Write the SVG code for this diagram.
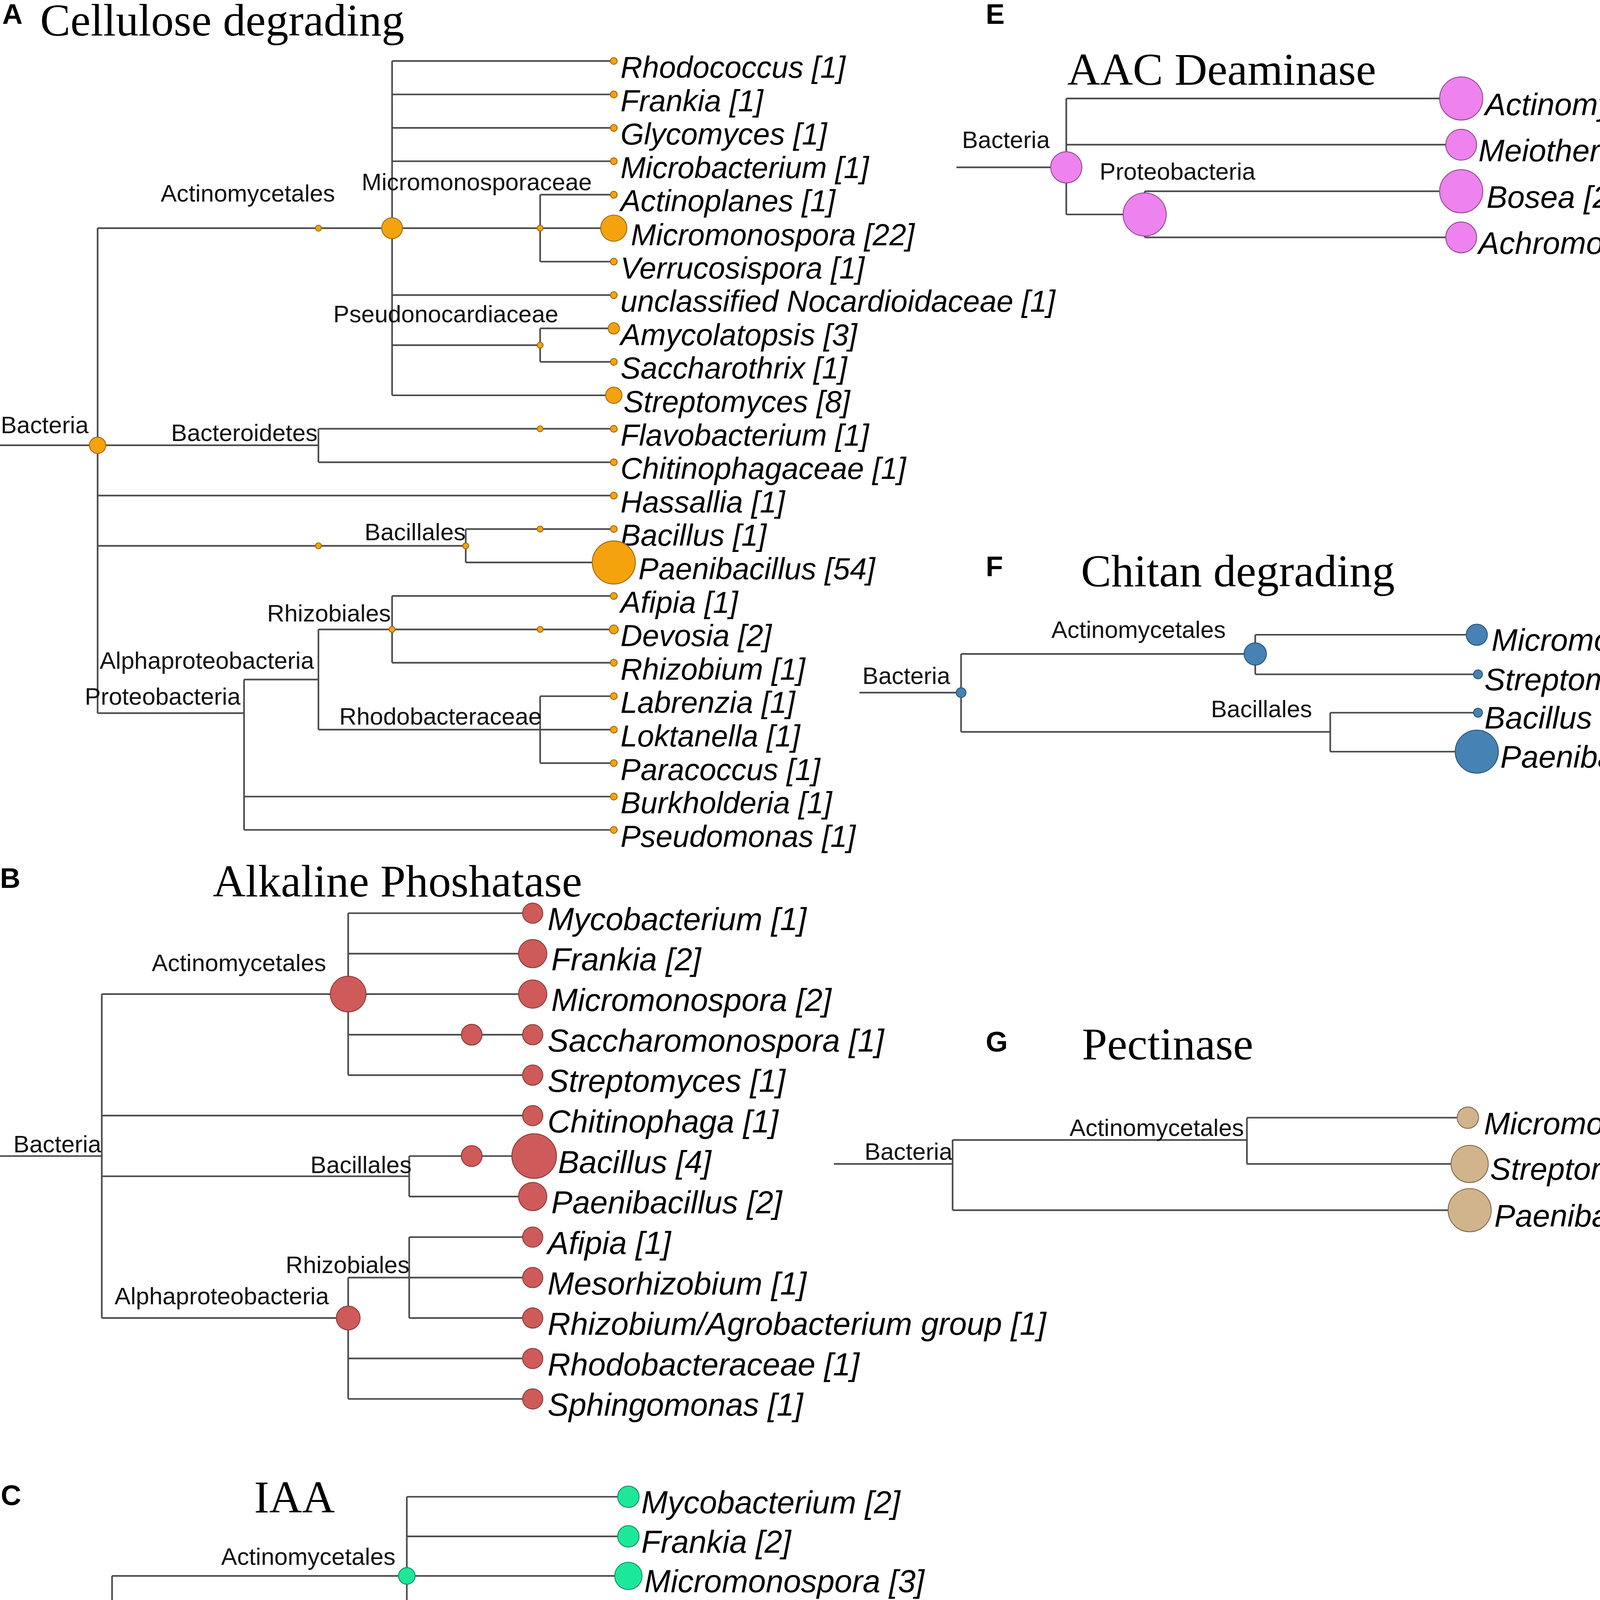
<svg xmlns="http://www.w3.org/2000/svg" width="4571" height="5951" viewBox="0 0 4571 5951">
<style>
.ln{fill:none;stroke:#4a4a4a;stroke-width:1.1}
.lf{font-family:"Liberation Sans",Arial,sans-serif;font-style:italic;fill:#000}
.fa{font-size:20.3px}.fb{font-size:21.3px}.fe{font-size:21px}
.in{font-family:"Liberation Sans",Arial,sans-serif;font-size:16.1px;fill:#111}
.tt{font-family:"Liberation Serif","Times New Roman",serif;font-size:30.5px;fill:#000}
.pl{font-family:"Liberation Sans",Arial,sans-serif;font-weight:bold;font-size:19px;fill:#000}
.cA{fill:#F5A20F;stroke:#9E6A0C;stroke-width:0.6}
.cB{fill:#CF5A5A;stroke:#8A3A3A;stroke-width:0.6}
.cC{fill:#1DE89A;stroke:#129062;stroke-width:0.6}
.cD{fill:#9932CC;stroke:#5C1E7C;stroke-width:0.6}
.cE{fill:#EE82EE;stroke:#8E4A8E;stroke-width:0.6}
.cF{fill:#4682B4;stroke:#2B5478;stroke-width:0.6}
.cG{fill:#D2B48C;stroke:#7E6A50;stroke-width:0.6}
.cH{fill:#CD5C5C;stroke:#8A3A3A;stroke-width:0.6}
</style>
<rect width="4571" height="5951" fill="#fff"/>
<g transform="scale(3.8092 3.8074)">
<g id="connectors">
<!-- A -->
<path class="ln" d="M0,299.4H65.6M65.6,153.4V479.5M65.6,153.4H263.5M263.5,41V265.8M263.5,41H412.5M263.5,63.5H412.5M263.5,86H412.5M263.5,108.4H412.5M263.5,198.4H412.5M263.5,265.8H412.5M263.5,153.4H363M363,130.9V175.9M363,130.9H412.5M363,153.4H412.5M363,175.9H412.5M263.5,232.1H363M363,220.8V243.3M363,220.8H412.5M363,243.3H412.5M65.6,299.4H214M214,288.3V310.8M214,288.3H412.5M214,310.8H412.5M65.6,333.2H412.5M65.6,367H313M313,355.7V378.2M313,355.7H412.5M313,378.2H412.5M65.6,479.5H164M164,456.9V558M164,456.9H214M214,423.2V490.6M214,423.2H263.5M263.5,400.7V445.6M263.5,400.7H412.5M263.5,423.2H412.5M263.5,445.6H412.5M214,490.6H363M363,468.1V513.1M363,468.1H412.5M363,490.6H412.5M363,513.1H412.5M164,535.6H412.5M164,558H412.5"/>
<!-- B -->
<path class="ln" d="M0,777.3H68.4M68.4,668.4V886.2M68.4,668.4H234M234,614V722.9M234,614H358M234,641.2H358M234,668.4H358M234,695.7H358M234,722.9H358M68.4,750.1H358M68.4,790.9H275M275,777.3V804.5M275,777.3H358M275,804.5H358M68.4,886.2H234M234,859V940.6M234,859H275M275,831.8V886.2M275,831.8H358M275,859H358M275,886.2H358M234,913.4H358M234,940.6H358"/>
<!-- C -->
<path class="ln" d="M0,1166.1H75.3M75.3,1059.6V1285.9M75.3,1059.6H273.4M273.4,1006.4V1112.9M273.4,1006.4H422.3M273.4,1033H422.3M273.4,1059.6H422.3M273.4,1086.3H422.3M273.4,1112.9H422.3M75.3,1139.5H422.3M75.3,1166.1H422.3M75.3,1206.05H323.6M323.6,1192.7V1219.4M323.6,1192.7H422.3M323.6,1219.4H422.3M75.3,1285.9H273.4M273.4,1259.3V1325.8M273.4,1259.3H373M373,1246V1272.6M373,1246H422.3M373,1272.6H422.3M273.4,1299.2H422.3M273.4,1325.8H422.3"/>
<!-- D -->
<path class="ln" d="M0,1477.2H76.4M76.4,1429.1V1509.5M76.4,1429.1H314M314,1412V1445M314,1412H493.4M314,1445H493.4M76.4,1509.5H314M314,1493.3V1541.8M314,1493.3H374M374,1477V1509.6M374,1477H493.4M374,1509.6H493.4M314,1541.8H493.4"/>
<!-- E -->
<path class="ln" d="M642.8,112.5H716.6M716.6,66.2V144.2M716.6,66.2H982M716.6,97.3H982M716.6,144.2H769.3M769.3,128.6V159.6M769.3,128.6H982M769.3,159.6H982"/>
<!-- F -->
<path class="ln" d="M577.6,465.7H645.9M645.9,439.7V492.1M645.9,439.7H843.6M843.6,426.8V453.4M843.6,426.8H992.5M843.6,453.4H993.3M645.9,492.1H894M894,479.2V505.4M894,479.2H993.3M894,505.4H992.5"/>
<!-- G -->
<path class="ln" d="M560.4,782.6H640.2M640.2,766.5V813.7M640.2,766.5H838M838,751.5V782.6M838,751.5H986.5M838,782.6H987.7M640.2,813.7H987.7"/>
<!-- H -->
<path class="ln" d="M646.5,1224.3H723.9M723.9,1204.5V1242.9M723.9,1204.5H1013.6M723.9,1242.9H1013.6"/>
</g>

<g id="panelA">
<text class="pl" x="1.5" y="16">A</text>
<text class="tt" x="27" y="24">Cellulose degrading</text>
<g id="A-bacteria"><circle class="cA" cx="65.6" cy="299.4" r="5.5"/><text class="in" x="0.5" y="291.2">Bacteria</text></g>
<g id="A-actinomycetales"><circle class="cA" cx="214" cy="153.4" r="2"/><circle class="cA" cx="263.5" cy="153.4" r="7"/><text class="in" x="108" y="135.6">Actinomycetales</text></g>
<g id="A-micromonosporaceae"><circle class="cA" cx="363" cy="153.4" r="2"/><text class="in" x="243" y="127.8">Micromonosporaceae</text></g>
<g id="A-pseudonocardiaceae"><circle class="cA" cx="363" cy="232.1" r="2"/><text class="in" x="224" y="216.8">Pseudonocardiaceae</text></g>
<g id="A-bacteroidetes"><circle class="cA" cx="363" cy="288.3" r="2"/><text class="in" x="115" y="296.6">Bacteroidetes</text></g>
<g id="A-bacillales"><circle class="cA" cx="214" cy="367" r="2"/><circle class="cA" cx="313" cy="367" r="2"/><circle class="cA" cx="363" cy="355.7" r="2"/><text class="in" x="245" y="363.2">Bacillales</text></g>
<g id="A-rhizobiales"><circle class="cA" cx="263.5" cy="423.2" r="2"/><circle class="cA" cx="363" cy="423.2" r="2"/><text class="in" x="179.5" y="417.8">Rhizobiales</text></g>
<g id="A-alphaproteobacteria"><text class="in" x="67" y="449.6">Alphaproteobacteria</text></g>
<g id="A-proteobacteria"><text class="in" x="57" y="473.7">Proteobacteria</text></g>
<g id="A-rhodobacteraceae"><text class="in" x="228" y="487.2">Rhodobacteraceae</text></g>
<g id="A-rhodococcus"><circle class="cA" cx="412.5" cy="41" r="2.3"/><text class="lf fa" x="417" y="52.3">Rhodococcus [1]</text></g>
<g id="A-frankia"><circle class="cA" cx="412.5" cy="63.5" r="2.3"/><text class="lf fa" x="417" y="74.8">Frankia [1]</text></g>
<g id="A-glycomyces"><circle class="cA" cx="412.5" cy="86" r="2.3"/><text class="lf fa" x="417" y="97.3">Glycomyces [1]</text></g>
<g id="A-microbacterium"><circle class="cA" cx="412.5" cy="108.4" r="2.3"/><text class="lf fa" x="417" y="119.7">Microbacterium [1]</text></g>
<g id="A-actinoplanes"><circle class="cA" cx="412.5" cy="130.9" r="2.3"/><text class="lf fa" x="417" y="142.2">Actinoplanes [1]</text></g>
<g id="A-micromonospora"><circle class="cA" cx="412.5" cy="153.4" r="8.8"/><text class="lf fa" x="424" y="164.9">Micromonospora [22]</text></g>
<g id="A-verrucosispora"><circle class="cA" cx="412.5" cy="175.9" r="2.3"/><text class="lf fa" x="417" y="187.2">Verrucosispora [1]</text></g>
<g id="A-nocardioidaceae"><circle class="cA" cx="412.5" cy="198.4" r="2.3"/><text class="lf fa" x="417" y="209.7">unclassified Nocardioidaceae [1]</text></g>
<g id="A-amycolatopsis"><circle class="cA" cx="412.5" cy="220.8" r="3.8"/><text class="lf fa" x="417" y="232.1">Amycolatopsis [3]</text></g>
<g id="A-saccharothrix"><circle class="cA" cx="412.5" cy="243.3" r="2.3"/><text class="lf fa" x="417" y="254.6">Saccharothrix [1]</text></g>
<g id="A-streptomyces"><circle class="cA" cx="412.5" cy="265.8" r="5.5"/><text class="lf fa" x="419" y="277.1">Streptomyces [8]</text></g>
<g id="A-flavobacterium"><circle class="cA" cx="412.5" cy="288.3" r="2.3"/><text class="lf fa" x="417" y="299.6">Flavobacterium [1]</text></g>
<g id="A-chitinophagaceae"><circle class="cA" cx="412.5" cy="310.8" r="2.3"/><text class="lf fa" x="417" y="322.1">Chitinophagaceae [1]</text></g>
<g id="A-hassallia"><circle class="cA" cx="412.5" cy="333.2" r="2.3"/><text class="lf fa" x="417" y="344.5">Hassallia [1]</text></g>
<g id="A-bacillus"><circle class="cA" cx="412.5" cy="355.7" r="2.3"/><text class="lf fa" x="417" y="367">Bacillus [1]</text></g>
<g id="A-paenibacillus"><circle class="cA" cx="412.5" cy="378.2" r="14.5"/><text class="lf fa" x="429" y="389.6">Paenibacillus [54]</text></g>
<g id="A-afipia"><circle class="cA" cx="412.5" cy="400.7" r="2.3"/><text class="lf fa" x="417" y="412">Afipia [1]</text></g>
<g id="A-devosia"><circle class="cA" cx="412.5" cy="423.2" r="3"/><text class="lf fa" x="417" y="434.5">Devosia [2]</text></g>
<g id="A-rhizobium"><circle class="cA" cx="412.5" cy="445.6" r="2.3"/><text class="lf fa" x="417" y="456.9">Rhizobium [1]</text></g>
<g id="A-labrenzia"><circle class="cA" cx="412.5" cy="468.1" r="2.3"/><text class="lf fa" x="417" y="479.4">Labrenzia [1]</text></g>
<g id="A-loktanella"><circle class="cA" cx="412.5" cy="490.6" r="2.3"/><text class="lf fa" x="417" y="501.9">Loktanella [1]</text></g>
<g id="A-paracoccus"><circle class="cA" cx="412.5" cy="513.1" r="2.3"/><text class="lf fa" x="417" y="524.4">Paracoccus [1]</text></g>
<g id="A-burkholderia"><circle class="cA" cx="412.5" cy="535.6" r="2.3"/><text class="lf fa" x="417" y="546.9">Burkholderia [1]</text></g>
<g id="A-pseudomonas"><circle class="cA" cx="412.5" cy="558" r="2.3"/><text class="lf fa" x="417" y="569.3">Pseudomonas [1]</text></g>
</g>

<g id="panelB">
<text class="pl" x="0" y="597">B</text>
<text class="tt" x="143" y="602.7">Alkaline Phoshatase</text>
<g id="B-bacteria"><text class="in" x="9" y="774.7">Bacteria</text></g>
<g id="B-actinomycetales"><circle class="cB" cx="234" cy="668.4" r="12"/><text class="in" x="102" y="653">Actinomycetales</text></g>
<g id="B-bacillales"><circle class="cB" cx="317" cy="777.3" r="7"/><text class="in" x="208.6" y="788.6">Bacillales</text></g>
<g id="B-rhizobiales"><text class="in" x="192" y="855.9">Rhizobiales</text></g>
<g id="B-alphaproteobacteria"><circle class="cB" cx="234" cy="886.2" r="8"/><text class="in" x="77" y="877">Alphaproteobacteria</text></g>
<g id="B-mycobacterium"><circle class="cB" cx="358" cy="614" r="6.8"/><text class="lf fb" x="368" y="625.3">Mycobacterium [1]</text></g>
<g id="B-frankia"><circle class="cB" cx="358" cy="641.2" r="9.5"/><text class="lf fb" x="370.5" y="652.5">Frankia [2]</text></g>
<g id="B-micromonospora"><circle class="cB" cx="358" cy="668.4" r="9.5"/><text class="lf fb" x="370.5" y="679.7">Micromonospora [2]</text></g>
<g id="B-saccharomonospora"><circle class="cB" cx="317" cy="695.7" r="7"/><circle class="cB" cx="358" cy="695.7" r="6.8"/><text class="lf fb" x="368" y="707">Saccharomonospora [1]</text></g>
<g id="B-streptomyces"><circle class="cB" cx="358" cy="722.9" r="6.8"/><text class="lf fb" x="368" y="734.2">Streptomyces [1]</text></g>
<g id="B-chitinophaga"><circle class="cB" cx="358" cy="750.1" r="6.8"/><text class="lf fb" x="368" y="761.4">Chitinophaga [1]</text></g>
<g id="B-bacillus"><circle class="cB" cx="359" cy="777.3" r="15"/><text class="lf fb" x="375" y="788.6">Bacillus [4]</text></g>
<g id="B-paenibacillus"><circle class="cB" cx="358" cy="804.5" r="9.5"/><text class="lf fb" x="370.5" y="815.8">Paenibacillus [2]</text></g>
<g id="B-afipia"><circle class="cB" cx="358" cy="831.8" r="6.8"/><text class="lf fb" x="368" y="843.1">Afipia [1]</text></g>
<g id="B-mesorhizobium"><circle class="cB" cx="358" cy="859" r="6.8"/><text class="lf fb" x="368" y="870.3">Mesorhizobium [1]</text></g>
<g id="B-rhizobium"><circle class="cB" cx="358" cy="886.2" r="6.8"/><text class="lf fb" x="368" y="897.5">Rhizobium/Agrobacterium group [1]</text></g>
<g id="B-rhodobacteraceae"><circle class="cB" cx="358" cy="913.4" r="6.8"/><text class="lf fb" x="368" y="924.7">Rhodobacteraceae [1]</text></g>
<g id="B-sphingomonas"><circle class="cB" cx="358" cy="940.6" r="6.8"/><text class="lf fb" x="368" y="951.9">Sphingomonas [1]</text></g>
</g>

<g id="panelC">
<text class="pl" x="0.5" y="1012">C</text>
<text class="tt" x="170.8" y="1017">IAA</text>
<g id="C-bacteria"><circle class="cC" cx="75.3" cy="1166.1" r="5.5"/><text class="in" x="10.5" y="1157.7">Bacteria</text></g>
<g id="C-actinomycetales"><circle class="cC" cx="273.4" cy="1059.6" r="5.6"/><text class="in" x="148.6" y="1052.2">Actinomycetales</text></g>
<g id="C-bacillales"><circle class="cC" cx="323.6" cy="1206.05" r="5.5"/><text class="in" x="251" y="1197.5">Bacillales</text></g>
<g id="C-phyllobacteriaceae"><circle class="cC" cx="323.6" cy="1259.3" r="5.5"/><text class="in" x="236.5" y="1256.1">Phyllobacteriaceae</text></g>
<g id="C-alphaproteobacteria"><text class="in" x="123.5" y="1282.4">Alphaproteobacteria</text></g>
<g id="C-mycobacterium"><circle class="cC" cx="422.3" cy="1006.4" r="7.2"/><text class="lf fb" x="431" y="1017.4">Mycobacterium [2]</text></g>
<g id="C-frankia"><circle class="cC" cx="422.3" cy="1033" r="7.2"/><text class="lf fb" x="431" y="1044">Frankia [2]</text></g>
<g id="C-micromonospora"><circle class="cC" cx="422.3" cy="1059.6" r="9.2"/><text class="lf fb" x="433" y="1070.6">Micromonospora [3]</text></g>
<g id="C-pseudonocardia"><circle class="cC" cx="373" cy="1086.3" r="5.5"/><circle class="cC" cx="422.3" cy="1086.3" r="9.2"/><text class="lf fb" x="433" y="1097.3">Pseudonocardia [3]</text></g>
<g id="C-streptomyces"><circle class="cC" cx="422.3" cy="1112.9" r="7.2"/><text class="lf fb" x="431" y="1123.9">Streptomyces [2]</text></g>
<g id="C-flavobacteriaceae"><circle class="cC" cx="273.4" cy="1139.5" r="5.5"/><circle class="cC" cx="422.3" cy="1139.5" r="5.4"/><text class="lf fb" x="430" y="1150.5">Flavobacteriaceae [1]</text></g>
<g id="C-meiothermus"><circle class="cC" cx="422.3" cy="1166.1" r="5.4"/><text class="lf fb" x="430" y="1177.1">Meiothermus [1]</text></g>
<g id="C-bacillus"><circle class="cC" cx="422.3" cy="1192.7" r="11"/><text class="lf fb" x="434.5" y="1203.7">Bacillus [4]</text></g>
<g id="C-paenibacillus"><circle class="cC" cx="422.3" cy="1219.4" r="15"/><text class="lf fb" x="438.7" y="1230.4">Paenibacillus [8]</text></g>
<g id="C-hoeflea"><circle class="cC" cx="422.3" cy="1246" r="5.4"/><text class="lf fb" x="430" y="1257">Hoeflea [1]</text></g>
<g id="C-phyllobacterium"><circle class="cC" cx="422.3" cy="1272.6" r="5.4"/><text class="lf fb" x="430" y="1283.6">Phyllobacterium [1]</text></g>
<g id="C-rhodobacteraceae"><circle class="cC" cx="422.3" cy="1299.2" r="5.4"/><text class="lf fb" x="430" y="1310.2">Rhodobacteraceae [1]</text></g>
<g id="C-novosphingobium"><circle class="cC" cx="373" cy="1325.8" r="5.5"/><circle class="cC" cx="422.3" cy="1325.8" r="5.4"/><text class="lf fb" x="430" y="1336.8">Novosphingobium [1]</text></g>
</g>

<g id="panelD">
<text class="pl" x="0" y="1391">D</text>
<text class="tt" x="164" y="1396">PAA</text>
<g id="D-bacteria"><text class="in" x="17.9" y="1474.6">Bacteria</text></g>
<g id="D-actinomycetales"><text class="in" x="194.6" y="1426.8">Actinomycetales</text></g>
<g id="D-rhizobiales"><text class="in" x="305.7" y="1472.1">Rhizobiales</text></g>
<g id="D-alphaproteobacteria"><circle class="cD" cx="314" cy="1509.5" r="14.5"/><text class="in" x="166" y="1496">Alphaproteobacteria</text></g>
<g id="D-mycobacterium"><circle class="cD" cx="493.4" cy="1412" r="14.9"/><text class="lf fb" x="510.2" y="1422.6">Mycobacterium [1]</text></g>
<g id="D-micromonospora"><circle class="cD" cx="493.4" cy="1445" r="14.9"/><text class="lf fb" x="510.2" y="1455.6">Micromonospora [1]</text></g>
<g id="D-hyphomicrobium"><circle class="cD" cx="493.4" cy="1477" r="14.9"/><text class="lf fb" x="510.2" y="1487.6">Hyphomicrobium [1]</text></g>
<g id="D-phyllobacterium"><circle class="cD" cx="493.4" cy="1509.6" r="14.9"/><text class="lf fb" x="510.2" y="1520.2">Phyllobacterium [1]</text></g>
<g id="D-dongia"><circle class="cD" cx="493.4" cy="1541.8" r="14.9"/><text class="lf fb" x="510.2" y="1552.4">Dongia [1]</text></g>
</g>

<g id="panelE">
<text class="pl" x="662.5" y="16">E</text>
<text class="tt" x="717.3" y="57">AAC Deaminase</text>
<g id="E-bacteria"><circle class="cE" cx="716.6" cy="112.5" r="10.5"/><text class="in" x="646.5" y="99.6">Bacteria</text></g>
<g id="E-proteobacteria"><circle class="cE" cx="769.3" cy="144.2" r="14.5"/><text class="in" x="739" y="120.7">Proteobacteria</text></g>
<g id="E-actinomycetales"><circle class="cE" cx="982" cy="66.2" r="14.5"/><text class="lf fe" x="998" y="77.4">Actinomycetales [2]</text></g>
<g id="E-meiothermus"><circle class="cE" cx="982" cy="97.3" r="10.4"/><text class="lf fe" x="993.6" y="108.5">Meiothermus [1]</text></g>
<g id="E-bosea"><circle class="cE" cx="982" cy="128.6" r="14.5"/><text class="lf fe" x="999" y="139.8">Bosea [2]</text></g>
<g id="E-achromobacter"><circle class="cE" cx="982" cy="159.6" r="10.4"/><text class="lf fe" x="993.6" y="170.8">Achromobacter [1]</text></g>
</g>

<g id="panelF">
<text class="pl" x="662.5" y="387.5">F</text>
<text class="tt" x="726.5" y="394.2">Chitan degrading</text>
<g id="F-bacteria"><circle class="cF" cx="645.9" cy="465.7" r="3.3"/><text class="in" x="579.6" y="459.9">Bacteria</text></g>
<g id="F-actinomycetales"><circle class="cF" cx="843.6" cy="439.7" r="7.5"/><text class="in" x="706.6" y="428.8">Actinomycetales</text></g>
<g id="F-bacillales"><text class="in" x="813.8" y="482.1">Bacillales</text></g>
<g id="F-micromonospora"><circle class="cF" cx="992.5" cy="426.8" r="7.1"/><text class="lf fe" x="1002.4" y="437.6">Micromonospora 5</text></g>
<g id="F-streptomycetaceae"><circle class="cF" cx="993.3" cy="453.4" r="3"/><text class="lf fe" x="997.6" y="464">Streptomycetaceae 1</text></g>
<g id="F-bacillus"><circle class="cF" cx="993.3" cy="479.2" r="3"/><text class="lf fe" x="997.6" y="489.8">Bacillus 1</text></g>
<g id="F-paenibacillus"><circle class="cF" cx="992.5" cy="505.4" r="14.5"/><text class="lf fe" x="1008.3" y="516.1">Paenibacillus 17</text></g>
</g>

<g id="panelG">
<text class="pl" x="662.5" y="707">G</text>
<text class="tt" x="727.1" y="712.3">Pectinase</text>
<g id="G-bacteria"><text class="in" x="581" y="779.7">Bacteria</text></g>
<g id="G-actinomycetales"><text class="in" x="718.8" y="763.8">Actinomycetales</text></g>
<g id="G-micromonospora"><circle class="cG" cx="986.5" cy="751.5" r="7.2"/><text class="lf fe" x="997.3" y="762.7">Micromonospora [1]</text></g>
<g id="G-streptomyces"><circle class="cG" cx="987.7" cy="782.6" r="12.5"/><text class="lf fe" x="1001.4" y="793.2">Streptomyces [3]</text></g>
<g id="G-paenibacillus"><circle class="cG" cx="987.7" cy="813.7" r="14.5"/><text class="lf fe" x="1004.3" y="824.8">Paenibacillus [4]</text></g>
</g>

<g id="panelH">
<text class="pl" x="663" y="1143">H</text>
<text class="tt" x="726.4" y="1149.5">Phytase</text>
<g id="H-bacteria"><circle class="cH" cx="723.9" cy="1224.3" r="14.5"/><text class="in" x="650.8" y="1206.7">Bacteria</text></g>
<g id="H-streptomyces"><circle class="cH" cx="1013.6" cy="1204.5" r="14.5"/><text class="lf fe" x="1030" y="1215.4">Streptomyces [1]</text></g>
<g id="H-bacillaceae"><circle class="cH" cx="1013.6" cy="1242.9" r="14.5"/><text class="lf fe" x="1030.7" y="1254">Bacillaceae [1]</text></g>
</g>
</g>
</svg>
